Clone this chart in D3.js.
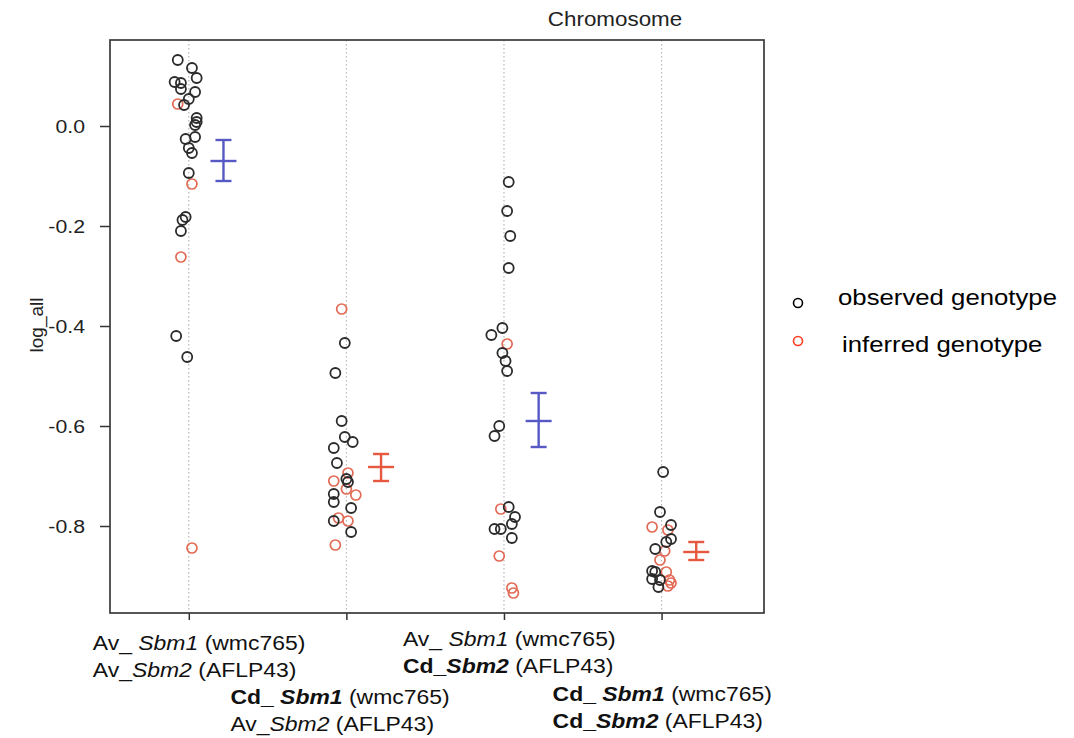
<!DOCTYPE html>
<html>
<head>
<meta charset="utf-8">
<script src="https://cdn.jsdelivr.net/npm/d3@7"></script>
<style>
  html, body { margin: 0; padding: 0; background: #fff; }
  svg { display: block; font-family: "Liberation Sans", Arial, sans-serif; }
</style>
</head>
<body>
<div id="chart"></div>
<script>
// Genotype classes (allele at Sbm1, allele at Sbm2)
const sbm1Allele = ['Av', 'Cd', 'Av', 'Cd'];
const sbm2Allele = ['Av', 'Av', 'Cd', 'Cd'];

// observed genotype points: log_all values and horizontal jitter (category units)
const observedVal = [
  [0.132, 0.116, 0.096, 0.088, 0.086, 0.074, 0.068, 0.054, 0.042, 0.016, 0.008, 0.002,
   -0.022, -0.026, -0.044, -0.054, -0.094, -0.182, -0.188, -0.21, -0.42, -0.462],
  [-0.434, -0.494, -0.59, -0.622, -0.632, -0.644, -0.674, -0.706, -0.712, -0.736,
   -0.752, -0.764, -0.79, -0.812],
  [-0.112, -0.17, -0.22, -0.284, -0.404, -0.418, -0.454, -0.47, -0.49, -0.6, -0.62,
   -0.762, -0.782, -0.796, -0.806, -0.806, -0.824],
  [-0.692, -0.772, -0.798, -0.826, -0.832, -0.846, -0.89, -0.892, -0.906, -0.908, -0.922]
];
const observedJit = [
  [-0.07, 0.02, 0.05, -0.09, -0.05, -0.05, 0.04, 0.0, -0.03, 0.05, 0.05, 0.04,
   0.04, -0.02, 0.0, 0.02, 0.0, -0.02, -0.04, -0.05, -0.08, -0.01],
  [-0.01, -0.07, -0.03, -0.01, 0.04, -0.08, -0.06, 0.0, 0.01, -0.08, -0.08, 0.03, -0.08, 0.03],
  [0.03, 0.02, 0.04, 0.03, -0.01, -0.08, -0.01, 0.01, 0.02, -0.03, -0.06,
   0.03, 0.07, 0.05, -0.06, -0.02, 0.05],
  [0.01, -0.01, 0.06, 0.06, 0.03, -0.04, -0.06, -0.04, -0.06, -0.01, -0.02]
];

// inferred genotype points
const inferredVal = [
  [0.044, -0.116, -0.262, -0.844],
  [-0.366, -0.694, -0.71, -0.726, -0.738, -0.784, -0.79, -0.838],
  [-0.436, -0.766, -0.86, -0.924, -0.934],
  [-0.802, -0.808, -0.85, -0.868, -0.892, -0.908, -0.914, -0.92]
];
const inferredJit = [
  [-0.07, 0.02, -0.05, 0.02],
  [-0.03, 0.01, -0.08, 0.0, 0.06, -0.05, 0.01, -0.07],
  [0.02, -0.02, -0.03, 0.05, 0.06],
  [-0.06, 0.04, 0.02, -0.01, 0.03, 0.05, 0.06, 0.04]
];

// group means with error bars
const meanVal = [-0.07, -0.682, -0.59, -0.852];
const barLow  = [-0.11, -0.71, -0.642, -0.868];
const barHigh = [-0.028, -0.656, -0.534, -0.832];

const yTicks = [0.0, -0.2, -0.4, -0.6, -0.8];
const legendLabels = ['observed genotype', 'inferred genotype'];

// ---- layout ----
const W = 1074, H = 738;
const SX = 1.12;   // the reference's text is slightly stretched horizontally
const colObserved = '#2b2b2b', colInferred = '#e36a55';
const colBlue = '#5659c4', colRed = '#e8573f';
const labelPos = [ // left x offset from tick, baseline of first line
  { dx: -96, y: 650 }, { dx: -116, y: 704 }, { dx: -101, y: 646 }, { dx: -109, y: 701 }
];

const svg = d3.select('#chart').append('svg')
  .attr('width', W).attr('height', H);
svg.append('rect').attr('width', W).attr('height', H).attr('fill', '#fff');

const x = d3.scaleLinear().domain([0.5, 4.65]).range([110, 764]);
const y = d3.scaleLinear().domain([-0.974, 0.172]).range([613, 40]);

const stretch = (tx, ty) => `translate(${tx},${ty}) scale(${SX},1)`;

// dotted guide lines
svg.append('g').selectAll('line')
  .data(d3.range(1, 5))
  .join('line')
  .attr('x1', d => x(d)).attr('x2', d => x(d))
  .attr('y1', y.range()[1]).attr('y2', y.range()[0])
  .attr('stroke', '#b8b8b8').attr('stroke-width', 1.2)
  .attr('stroke-dasharray', '1.5,2.5');

// y axis
const yAxis = svg.append('g')
  .attr('transform', `translate(${x.range()[0]},0)`)
  .call(d3.axisLeft(y).tickValues(yTicks).tickSize(10).tickFormat(d => d.toFixed(1)));
yAxis.select('.domain').remove();
yAxis.selectAll('.tick line').attr('stroke', '#333').attr('stroke-width', 1.5);
yAxis.selectAll('.tick text')
  .attr('x', 0).attr('dy', '0.36em')
  .attr('transform', stretch(-25, 0))
  .attr('font-size', 19).attr('fill', '#222')
  .attr('font-family', '"Liberation Sans", Arial, sans-serif');

// x axis ticks
const xAxis = svg.append('g')
  .attr('transform', `translate(0,${y.range()[0]})`)
  .call(d3.axisBottom(x).tickValues([1, 2, 3, 4]).tickSize(7).tickFormat(''));
xAxis.select('.domain').remove();
xAxis.selectAll('.tick line').attr('stroke', '#333').attr('stroke-width', 1.5);

// frame
svg.append('rect')
  .attr('x', x.range()[0]).attr('y', y.range()[1])
  .attr('width', x.range()[1] - x.range()[0])
  .attr('height', y.range()[0] - y.range()[1])
  .attr('fill', 'none').attr('stroke', '#3a3a3a').attr('stroke-width', 1.7);

// points
function pointsFor(vals, jits) {
  const out = [];
  vals.forEach((arr, g) => arr.forEach((v, i) => out.push({ g, v, j: jits[g][i] })));
  return out;
}
const ptsObs = pointsFor(observedVal, observedJit);
const ptsInf = pointsFor(inferredVal, inferredJit);

svg.append('g').selectAll('circle')
  .data(ptsInf)
  .join('circle')
  .attr('cx', d => x(d.g + 1 + d.j)).attr('cy', d => y(d.v))
  .attr('r', 5)
  .attr('fill', 'none').attr('stroke', colInferred).attr('stroke-width', 1.7);

svg.append('g').selectAll('circle')
  .data(ptsObs)
  .join('circle')
  .attr('cx', d => x(d.g + 1 + d.j)).attr('cy', d => y(d.v))
  .attr('r', 5)
  .attr('fill', 'none').attr('stroke', colObserved).attr('stroke-width', 1.8);

// error bars (blue when Sbm1 is Av, red when Cd)
const bars = svg.append('g').selectAll('g')
  .data(meanVal.map((m, i) => ({ i, m, lo: barLow[i], hi: barHigh[i] })))
  .join('g')
  .attr('stroke', d => sbm1Allele[d.i] === 'Av' ? colBlue : colRed)
  .attr('stroke-width', 2.4)
  .attr('transform', d => `translate(${x(d.i + 1 + 0.22)},0)`);
bars.append('line').attr('y1', d => y(d.lo)).attr('y2', d => y(d.hi));
bars.append('line').attr('x1', -8).attr('x2', 8).attr('y1', d => y(d.lo)).attr('y2', d => y(d.lo));
bars.append('line').attr('x1', -8).attr('x2', 8).attr('y1', d => y(d.hi)).attr('y2', d => y(d.hi));
bars.append('line').attr('x1', -13).attr('x2', 13).attr('y1', d => y(d.m)).attr('y2', d => y(d.m));

// title and y label
svg.append('text')
  .attr('transform', stretch(615, 26))
  .attr('text-anchor', 'middle').attr('font-size', 20).attr('fill', '#222')
  .text('Chromosome');
svg.append('text')
  .attr('transform', 'translate(43,325) rotate(-90)')
  .attr('text-anchor', 'middle').attr('font-size', 19).attr('fill', '#222')
  .text('log_all');

// category labels (two lines, mixed bold / italic)
function labelLine(sel, allele, gene, marker, sep) {
  const cd = allele === 'Cd';
  sel.append('tspan').attr('font-weight', cd ? 'bold' : 'normal').text(allele + sep);
  sel.append('tspan').attr('font-weight', cd ? 'bold' : 'normal')
    .attr('font-style', 'italic').text(gene);
  sel.append('tspan').text(' (' + marker + ')');
}
sbm1Allele.forEach((a1, i) => {
  const p = labelPos[i];
  const t1 = svg.append('text')
    .attr('transform', stretch(x(i + 1) + p.dx, p.y))
    .attr('font-size', 20.5).attr('fill', '#111');
  labelLine(t1, a1, 'Sbm1', 'wmc765', '_ ');
  const t2 = svg.append('text')
    .attr('transform', stretch(x(i + 1) + p.dx, p.y + 27))
    .attr('font-size', 20.5).attr('fill', '#111');
  labelLine(t2, sbm2Allele[i], 'Sbm2', 'AFLP43', '_');
});

// legend
const legend = svg.append('g').selectAll('g')
  .data(legendLabels)
  .join('g')
  .attr('transform', (d, i) => `translate(798,${303 + i * 38})`);
legend.append('circle')
  .attr('r', 4.5).attr('fill', 'none').attr('stroke-width', 1.6)
  .attr('stroke', (d, i) => i === 0 ? '#000' : '#ff3b1f');
legend.append('text')
  .attr('transform', (d, i) => stretch(i === 0 ? 40 : 44, i === 0 ? 2 : 11))
  .attr('font-size', 23).attr('fill', '#000')
  .text(d => d);
</script>
</body>
</html>
